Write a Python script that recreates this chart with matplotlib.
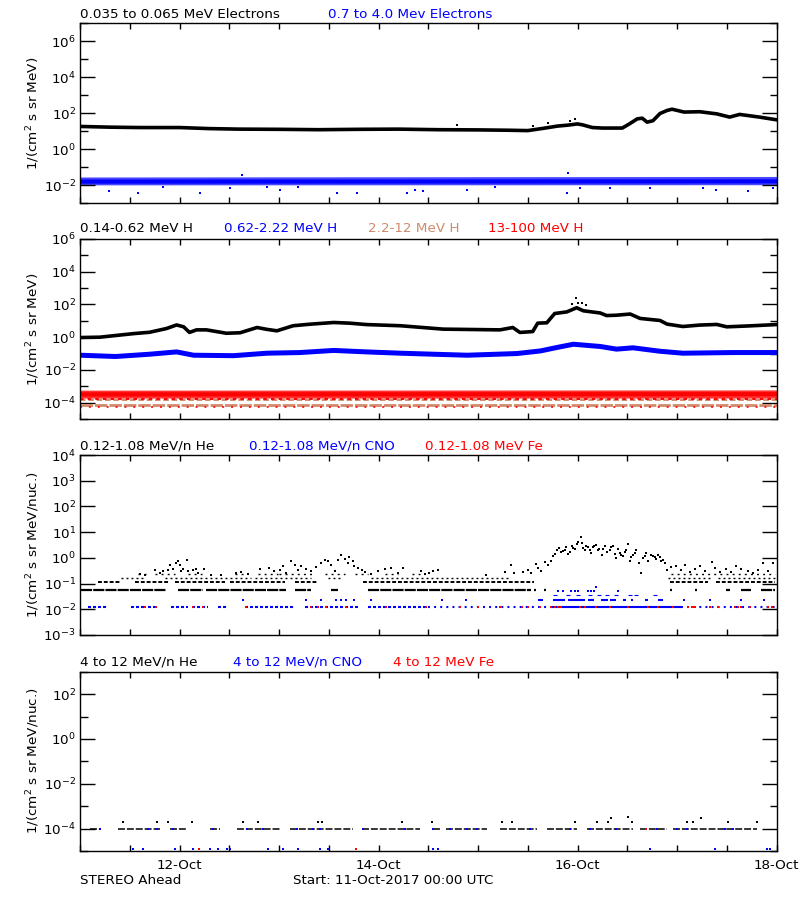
import numpy as np
import matplotlib
matplotlib.use('Agg')
import matplotlib.pyplot as plt
from matplotlib.ticker import FixedLocator, LogFormatterMathtext, NullFormatter

plt.rcParams['font.family'] = ['DejaVu Sans']
plt.rcParams['lines.scale_dashes'] = False

# ------------------------------------------------------------------ data
# time axis: hours since 11-Oct-2017 00:00 UTC
xtick_hours = [24, 72, 120, 168]
xtick_labels = ['12-Oct', '14-Oct', '16-Oct', '18-Oct']

# ---- panel 1: electrons
e_lo_hours = [0, 7.2, 14.4, 24, 31.2, 38.4, 48, 57.6, 67.2, 76.8, 86.4, 96, 103.2, 108, 111.6,
              115.2, 117.6, 120, 121.2, 123.6, 126, 130.8, 132.5, 134.4, 135.6, 136.8, 138.2,
              139.9, 141.6, 142.8, 145.7, 149.5, 153.6, 156.7, 159.1, 163.9, 168]
e_lo_flux = [18.2, 16.6, 15.8, 15.8, 13.8, 12.9, 12.6, 12.0, 12.6, 12.9, 12.0, 11.7, 11.2, 10.7,
             14.1, 19.1, 21.4, 25.1, 22.4, 15.8, 14.8, 14.8, 25.1, 47.9, 52.5, 31.6, 38.0, 95.5,
             141, 166, 115, 120, 91.2, 60.3, 85.1, 60.3, 42.7]
e_lo_out_hours = [90.9, 109.2, 113.0, 118.2, 119.4]
e_lo_out_flux = [22, 20, 28, 35, 50]

e_hi_band_hours = [0, 168]
e_hi_band_low = [0.0102, 0.0104]
e_hi_band_high = [0.028, 0.030]
e_hi_core_flux = [0.0155, 0.016]
e_hi_out_hours = [6.9, 14.1, 20.0, 28.9, 36.1, 45.0, 48.2, 52.7, 61.9, 66.7, 78.8, 80.8, 82.8,
                  93.3, 100.0, 117.4, 120.6, 127.8, 137.5, 150.3, 153.5, 161.2, 167.2, 39.0, 117.8]
e_hi_out_flux = [0.0046, 0.0034, 0.008, 0.0038, 0.0066, 0.0075, 0.0052, 0.0079, 0.0037, 0.0037,
                 0.0037, 0.0052, 0.0048, 0.0052, 0.0078, 0.0037, 0.0066, 0.0066, 0.0066, 0.0066,
                 0.0052, 0.0048, 0.0066, 0.035, 0.044]

# ---- panel 2: protons
h_lo_hours = [0, 4.8, 13, 16.8, 20.9, 23.3, 25, 26.4, 28.1, 30.5, 35.3, 38.6, 42.7, 45.1, 47.5,
              51.4, 55.4, 61.2, 65, 69.1, 77.3, 87.6, 101.3, 104.4, 106.1, 109.2, 110.4, 112.6,
              114.5, 117.4, 119.8, 121.4, 125.5, 127, 129.4, 132.7, 135.1, 139.9, 141.6, 145.4,
              149.5, 153.6, 156, 161.5, 168]
h_lo_flux = [0.95, 1.0, 1.66, 2.0, 3.4, 5.6, 4.3, 1.95, 2.8, 2.8, 1.74, 1.86, 3.9, 3.0, 2.45,
             5.0, 6.2, 7.9, 7.2, 5.9, 5.0, 3.1, 2.8, 3.9, 1.95, 2.2, 7.2, 7.6, 28, 35, 63, 41,
             30, 21, 22, 26, 14, 10.5, 6.3, 4.5, 5.5, 6.0, 4.3, 4.9, 5.9]
h_lo_out_hours = [118.6, 119.6, 120.2, 121.0, 122.0]
h_lo_out_flux = [100, 250, 130, 120, 90]

h_mid_hours = [0, 8.6, 16.8, 23.3, 27.4, 37, 45.1, 53, 61.2, 69.1, 77.3, 85.2, 93.4, 105.4,
               111.1, 115, 119, 125.5, 129.4, 133.4, 139.9, 145.4, 157.4, 168]
h_mid_flux = [0.079, 0.066, 0.091, 0.126, 0.079, 0.074, 0.105, 0.115, 0.155, 0.126, 0.105,
              0.091, 0.079, 0.1, 0.145, 0.234, 0.37, 0.27, 0.186, 0.224, 0.138, 0.105, 0.115, 0.115]

h_top_band_hours = [0, 168]
h_top_band_low = [1.9e-4, 1.9e-4]
h_top_band_high = [5.8e-4, 6.0e-4]
h_top_core_flux = [3.2e-4, 3.3e-4]
h_top_lower_level = 1.66e-4
h_top_floor_level = 5.5e-5
h_high_levels = [1.38e-4, 7.6e-5]

# ---- panel 3: 0.12-1.08 MeV/n ions (count-quantised levels + scatter)
he_levels = [0.056, 0.112, 0.167, 0.232]
he_lvl1_start = [0.3, 23.6, 30.5, 51.8, 60.6, 69.5, 109.6, 111.9, 142.4, 148.4, 155.9, 159.5, 164.3]
he_lvl1_end = [20.8, 29.7, 49.8, 55.8, 62.2, 108.9, 110.0, 112.3, 142.9, 148.9, 156.7, 161.9, 167.6]
he_lvl2_start = [4.4, 13.2, 22.8, 36.1, 51.8, 68.3, 142.2, 153.5]
he_lvl2_end = [10.0, 21.2, 34.9, 49.4, 57.4, 109.6, 151.5, 167.6]
he_lvl3_start = [10.0, 20.4, 42.1, 59.8, 70.3, 141.8, 153.9]
he_lvl3_end = [15.6, 41.3, 55.8, 63.0, 103.2, 152.3, 167.6]
he_lvl4_start = [14.0, 18.0, 26.0, 37.3, 43.0, 48.0, 59.0, 66.3, 73.5, 80.0, 142.5]
he_lvl4_end = [16.0, 23.0, 29.5, 40.5, 47.8, 56.0, 63.8, 69.5, 76.7, 83.2, 167.6]
he_pts_hours = [14.4, 15.6, 18.0, 19.2, 20.0, 21.2, 21.6, 22.4, 23.2, 23.6, 24.0, 24.4, 24.8,
                25.7, 26.1, 27.3, 28.1, 28.5, 29.9, 31.7, 34.1, 37.7, 38.9, 40.5, 43.3, 45.7,
                46.9, 48.2, 49.0, 49.8, 51.0, 51.8, 52.6, 53.4, 54.6, 55.8, 57.0, 58.2, 59.0,
                59.8, 60.6, 61.4, 62.2, 63.0, 63.8, 64.6, 65.0, 65.8, 66.2, 67.1, 67.9, 68.7,
                70.3, 71.9, 73.5, 75.1, 76.7, 77.9, 82.3, 83.1,
                84.3, 85.1, 86.4, 98.0, 102.4, 103.9, 104.8, 106.9, 108.1, 108.9, 110.1, 110.5,
                111.3, 112.1, 112.9, 113.7, 114.5, 115.1, 116.1, 116.9, 117.7, 118.7, 119.3,
                120.1, 120.8, 121.3, 122.1, 122.9, 123.7, 124.5, 125.3, 125.9, 126.6, 127.8,
                128.6, 129.4, 130.2, 131.0, 131.8, 132.2, 132.6, 133.4, 134.2, 134.8, 135.4,
                136.2, 137.0, 137.8, 138.6, 139.4, 140.2, 141.0, 141.7, 142.6, 143.8, 145.0,
                146.0, 147.1, 148.3, 149.5, 150.7, 152.4, 153.1, 154.3, 155.9, 157.1, 158.3,
                159.5, 161.1, 162.3, 163.5, 164.7, 165.9, 167.2,
                114.0, 115.6, 116.5, 117.3, 118.2, 119.0, 119.8, 121.0, 121.7, 122.5, 123.3,
                124.1, 124.9, 126.2, 127.2, 128.2, 129.0, 129.8, 130.6, 131.4, 133.0, 133.8,
                135.8, 136.6, 138.2, 139.0, 139.8, 140.6]
he_pts_flux = [0.244, 0.223, 0.33, 0.26, 0.32, 0.35, 0.516, 0.383, 0.637, 0.785, 0.516, 0.32,
               0.383, 0.859, 0.301, 0.35, 0.383, 0.26, 0.38, 0.223, 0.21, 0.26, 0.28, 0.237,
               0.38, 0.40, 0.30, 0.35, 0.47, 0.26, 0.785, 0.55, 0.35, 0.47, 0.38, 0.32, 0.43,
               0.64, 0.86, 0.74, 0.55, 0.30, 0.86, 1.27, 0.94, 0.64, 1.06, 0.74, 0.47, 0.40,
               0.35, 0.28, 0.237, 0.30, 0.38, 0.40, 0.26, 0.40, 0.30, 0.24,
               0.26, 0.30, 0.33, 0.22, 0.28, 0.52, 0.26, 0.28, 0.35, 0.26, 0.58, 0.41, 0.30,
               0.68, 0.55, 0.74, 1.47, 1.98, 1.66, 2.1, 1.47, 3.0, 2.2, 4.1, 6.5, 2.4, 3.0,
               1.98, 2.7, 3.3, 2.2, 1.35, 2.8, 1.98, 3.0, 1.0, 1.56, 1.23, 1.98, 3.6, 0.74,
               1.35, 1.98, 0.64, 0.26, 1.23, 0.74, 1.35, 1.09, 1.35, 0.74, 0.64, 0.35, 0.44,
               0.50, 0.33, 0.55, 0.28, 0.37, 0.50, 0.30, 0.68, 0.41, 0.28, 0.37, 0.28, 0.50,
               0.37, 0.30, 0.26, 0.33, 0.64, 0.30, 0.64,
               1.2, 2.4, 1.9, 2.6, 1.7, 2.5, 3.4, 3.8, 2.1, 2.6, 1.6, 2.9, 2.0, 2.3, 1.7, 2.6,
               1.4, 2.2, 1.3, 1.7, 1.1, 1.5, 1.0, 1.5, 1.2, 0.9, 1.1, 0.85]

cno_levels = [0.012, 0.024, 0.037, 0.05, 0.072]
cno1_a_start = [1.9, 12.4, 16.4, 22.0, 26.9, 33.3, 39.7, 54.2, 69.5]
cno1_a_end = [6.7, 15.6, 18.8, 26.1, 30.9, 35.7, 51.8, 67.1, 84.0]
cno1_b_start = [83.9, 145.0]
cno1_b_end = [113.7, 167.6]
cno1_dense_start = [113.7]
cno1_dense_end = [145.0]
cno2_start = [110.5, 114.1, 117.7, 122.5, 125.7, 127.8, 131.0, 133.0, 136.2, 139.4]
cno2_end = [111.7, 116.9, 121.7, 124.1, 127.4, 129.4, 131.8, 133.4, 137.0, 140.6]
cno2_pts_hours = [39.2, 54.6, 58.2, 61.8, 63.0, 64.2, 66.2, 70.3, 87.2, 93.2, 145.8, 151.9, 159.5, 165.1]
cno3_pts_hours = [114.5, 117.7, 120.1, 122.9, 125.3, 127.0, 129.4, 132.6, 134.2, 138.6]
cno4_pts_hours = [115.3, 116.5, 118.5, 119.3, 120.1, 122.5, 123.3, 124.1, 129.8]
cno5_pts_hours = [124.5]
fe_pts_hours = [15.6, 18.4, 27.3, 29.7, 40.1, 55.8, 57.4, 59.4, 64.2, 73.9, 83.5, 91.6, 96.0,
                101.2, 106.5, 108.1, 110.9, 113.7, 114.5, 115.3, 116.1, 120.5, 121.7, 124.5,
                127.8, 132.2, 137.0, 139.4, 143.0, 146.7, 147.5, 148.3, 151.9, 153.9, 157.9,
                158.7, 159.5, 161.5, 165.9, 167.0]
fe_pts_flux = [0.012] * len(fe_pts_hours)

# ---- panel 4: 4-12 MeV/n ions
hi_line_level = 1.0e-4
hi_line_start = [2.4, 9.2, 21.7, 31.4, 37.8, 50.7, 67.9, 85.2, 88.4, 101.3, 112.6, 122.2, 135.1, 143.1]
hi_line_end = [4.8, 19.3, 25.7, 33.8, 48.2, 65.9, 82.0, 86.8, 98.1, 110.2, 119.8, 133.5, 141.5, 163.2]
hi_blue_on_line_hours = [4.8, 16.5, 18.5, 22.5, 32.2, 40.2, 44.2, 52.3, 56.3, 57.9, 68.3, 78.4,
                         85.2, 89.2, 93.3, 95.7, 108.5, 118.2, 123.0, 129.4, 139.1, 143.9, 146.3,
                         155.6, 157.6]
hi_red_on_line_hours = [136.5]
hi_he_pts_hours = [10.4, 18.5, 21.3, 26.9, 39.4, 43.0, 57.5, 58.3, 77.6, 84.8, 101.7, 104.1,
                   119.4, 124.6, 127.4, 128.2, 132.3, 133.1, 146.3, 147.9, 149.9, 156.4, 163.2]
hi_he_pts_flux = [2e-4, 2e-4, 2e-4, 2e-4, 2e-4, 2e-4, 2e-4, 2e-4, 2e-4, 2e-4, 2e-4, 2e-4,
                  2e-4, 2e-4, 2e-4, 3.1e-4, 3.2e-4, 2e-4, 2e-4, 2e-4, 3.1e-4, 2e-4, 2e-4]
hi_cno_low_hours = [12.9, 15.3, 22.9, 27.3, 31.4, 33.4, 35.4, 36.2, 45.4, 49.0, 52.7, 57.9,
                    59.9, 85.2, 86.4, 137.5, 153.2, 165.6, 166.4]
hi_cno_low_level = 1.2e-5
hi_fe_low_hours = [28.8, 66.6]

# ------------------------------------------------------------------ styling
BLUE = '#0000ff'
RED = '#ff0000'
BROWN = '#d08a6c'
W, H = 800, 900
FS = 9.7

fig = plt.figure(figsize=(8, 9), dpi=100)


def make_axes(top_px, bottom_px):
    left, right = 80, 776.5
    return fig.add_axes([left / W, 1 - bottom_px / H, (right - left) / W, (bottom_px - top_px) / H])


def style(ax, ylim, major, minor, show_x=False):
    ax.set_yscale('log')
    ax.set_xlim(0, 168)
    ax.set_ylim(*ylim)
    ax.yaxis.set_major_locator(FixedLocator(major))
    ax.yaxis.set_minor_locator(FixedLocator(minor))
    ax.yaxis.set_major_formatter(LogFormatterMathtext())
    ax.yaxis.set_minor_formatter(NullFormatter())
    ax.tick_params(axis='y', which='major', direction='in', length=10.8, width=1.0,
                   right=True, labelsize=FS, pad=3)
    ax.tick_params(axis='y', which='minor', direction='in', length=5.4, width=1.0, right=True)
    ax.xaxis.set_major_locator(FixedLocator(xtick_hours))
    ax.xaxis.set_minor_locator(FixedLocator(np.arange(0, 169, 12)))
    ax.tick_params(axis='x', which='both', direction='in', length=4.3, width=1.0,
                   top=True, labelsize=FS, pad=6)
    if show_x:
        ax.set_xticklabels(xtick_labels)
    else:
        ax.tick_params(axis='x', labelbottom=False)
    for s in ax.spines.values():
        s.set_linewidth(1.0)


def segs(ax, level, starts, ends, **kw):
    ax.hlines([level] * len(starts), starts, ends, **kw)


def label(x_px, y_px, s, color='black', **kw):
    fig.text(x_px / W, 1 - y_px / H, s, color=color, fontsize=FS, va='center', ha='left', **kw)


def ylab(y_px, s):
    fig.text(33 / W, 1 - y_px / H, s, rotation=90, fontsize=FS, va='center', ha='center')


MS = dict(marker='s', linestyle='none', markersize=1.8, markeredgewidth=0)

# ---- panel 1
ax1 = make_axes(23.3, 203)
style(ax1, (1e-3, 1e7), [1e-2, 1e0, 1e2, 1e4, 1e6], [1e-3, 1e-1, 1e1, 1e3, 1e5, 1e7])
ax1.fill_between(e_hi_band_hours, e_hi_band_low, e_hi_band_high, color=BLUE, alpha=0.72, lw=0)
ax1.plot(e_hi_band_hours, e_hi_core_flux, color=BLUE, lw=3.0)
ax1.plot(e_hi_out_hours, e_hi_out_flux, color=BLUE, **MS)
ax1.plot(e_lo_hours, e_lo_flux, color='black', lw=2.6, solid_joinstyle='round')
ax1.plot(e_lo_out_hours, e_lo_out_flux, color='black', **MS)
label(80, 14, '0.035 to 0.065 MeV Electrons')
label(328, 14, '0.7 to 4.0 Mev Electrons', BLUE)
ylab(113, r'1/(cm$^2$ s sr MeV)')

# ---- panel 2
ax2 = make_axes(239, 419)
style(ax2, (1e-5, 1e6), [1e-4, 1e-2, 1e0, 1e2, 1e4, 1e6], [1e-5, 1e-3, 1e-1, 1e1, 1e3, 1e5])
segs(ax2, h_high_levels[1], [0], [168], colors=BROWN, lw=2.0, linestyles=[(0, (9, 1.4))])
segs(ax2, h_top_floor_level, [0], [168], colors=RED, lw=1.2, linestyles=[(0, (1.4, 5))])
segs(ax2, h_high_levels[0], [0], [168], colors=BROWN, lw=1.4, linestyles=[(0, (4, 2))])
segs(ax2, h_top_lower_level, [0], [168], colors=RED, lw=1.4, linestyles=[(0, (2.5, 3))])
ax2.fill_between(h_top_band_hours, h_top_band_low, h_top_band_high, color=RED, alpha=0.8, lw=0)
ax2.plot(h_top_band_hours, h_top_core_flux, color=RED, lw=3.0)
ax2.plot(h_mid_hours, h_mid_flux, color=BLUE, lw=3.6, solid_joinstyle='round')
ax2.plot(h_lo_hours, h_lo_flux, color='black', lw=2.6, solid_joinstyle='round')
ax2.plot(h_lo_out_hours, h_lo_out_flux, color='black', **MS)
label(80, 229, '0.14-0.62 MeV H')
label(224, 229, '0.62-2.22 MeV H', BLUE)
label(368, 229, '2.2-12 MeV H', BROWN)
label(488, 229, '13-100 MeV H', RED)
ylab(329, r'1/(cm$^2$ s sr MeV)')

# ---- panel 3
ax3 = make_axes(455, 635)
style(ax3, (1e-3, 1e4), [1e-3, 1e-2, 1e-1, 1e0, 1e1, 1e2, 1e3, 1e4], [])
segs(ax3, cno_levels[0], cno1_a_start, cno1_a_end, colors=BLUE, lw=1.5, linestyles=[(0, (2.2, 1.4))])
segs(ax3, cno_levels[0], cno1_b_start, cno1_b_end, colors=BLUE, lw=1.5, linestyles=[(0, (1.4, 3))])
segs(ax3, cno_levels[0], cno1_dense_start, cno1_dense_end, colors=BLUE, lw=1.5)
segs(ax3, cno_levels[1], cno2_start, cno2_end, colors=BLUE, lw=1.5)
ax3.plot(cno2_pts_hours, [cno_levels[1]] * len(cno2_pts_hours), color=BLUE, **MS)
ax3.plot(cno3_pts_hours, [cno_levels[2]] * len(cno3_pts_hours), color=BLUE, marker='_',
         linestyle='none', markersize=3, markeredgewidth=0.8)
ax3.plot(cno4_pts_hours, [cno_levels[3]] * len(cno4_pts_hours), color=BLUE, **MS)
ax3.plot(cno5_pts_hours, [cno_levels[4]] * len(cno5_pts_hours), color=BLUE, **MS)
ax3.plot(fe_pts_hours, fe_pts_flux, color=RED, marker='s', linestyle='none', markersize=1.9,
         markeredgewidth=0)
segs(ax3, he_levels[0], he_lvl1_start, he_lvl1_end, colors='black', lw=1.6, linestyles=[(0, (8, 0.8))])
segs(ax3, he_levels[1], he_lvl2_start, he_lvl2_end, colors='black', lw=1.4, linestyles=[(0, (2.8, 1.4))])
segs(ax3, he_levels[2], he_lvl3_start, he_lvl3_end, colors='black', lw=1.0, linestyles=[(0, (1.4, 2.2))])
segs(ax3, he_levels[3], he_lvl4_start, he_lvl4_end, colors='black', lw=1.0, linestyles=[(0, (1.4, 3))])
ax3.plot(he_pts_hours, he_pts_flux, color='black', marker='s', linestyle='none',
         markersize=2.1, markeredgewidth=0)
label(80, 446, '0.12-1.08 MeV/n He')
label(249, 446, '0.12-1.08 MeV/n CNO', BLUE)
label(425, 446, '0.12-1.08 MeV Fe', RED)
ylab(545, r'1/(cm$^2$ s sr MeV/nuc.)')

# ---- panel 4
ax4 = make_axes(671.7, 851)
style(ax4, (1e-5, 1e3), [1e-4, 1e-2, 1e0, 1e2], [1e-5, 1e-3, 1e-1, 1e1, 1e3], show_x=True)
segs(ax4, hi_line_level, hi_line_start, hi_line_end, colors='black', lw=1.1,
     linestyles=[(0, (5, 1.4))])
ax4.plot(hi_blue_on_line_hours, [hi_line_level] * len(hi_blue_on_line_hours), color=BLUE,
         marker='s', linestyle='none', markersize=1.8, markeredgewidth=0)
ax4.plot(hi_red_on_line_hours, [hi_line_level] * len(hi_red_on_line_hours), color=RED, **MS)
ax4.plot(hi_he_pts_hours, hi_he_pts_flux, color='black', **MS)
ax4.plot(hi_cno_low_hours, [hi_cno_low_level] * len(hi_cno_low_hours), color=BLUE, **MS)
ax4.plot(hi_fe_low_hours, [hi_cno_low_level] * len(hi_fe_low_hours), color=RED, **MS)
label(80, 662, '4 to 12 MeV/n He')
label(233, 662, '4 to 12 MeV/n CNO', BLUE)
label(393, 662, '4 to 12 MeV Fe', RED)
ylab(761, r'1/(cm$^2$ s sr MeV/nuc.)')

label(80, 881, 'STEREO Ahead')
label(293, 881, 'Start: 11-Oct-2017 00:00 UTC')

fig.savefig('out.png', dpi=100, facecolor='white')
